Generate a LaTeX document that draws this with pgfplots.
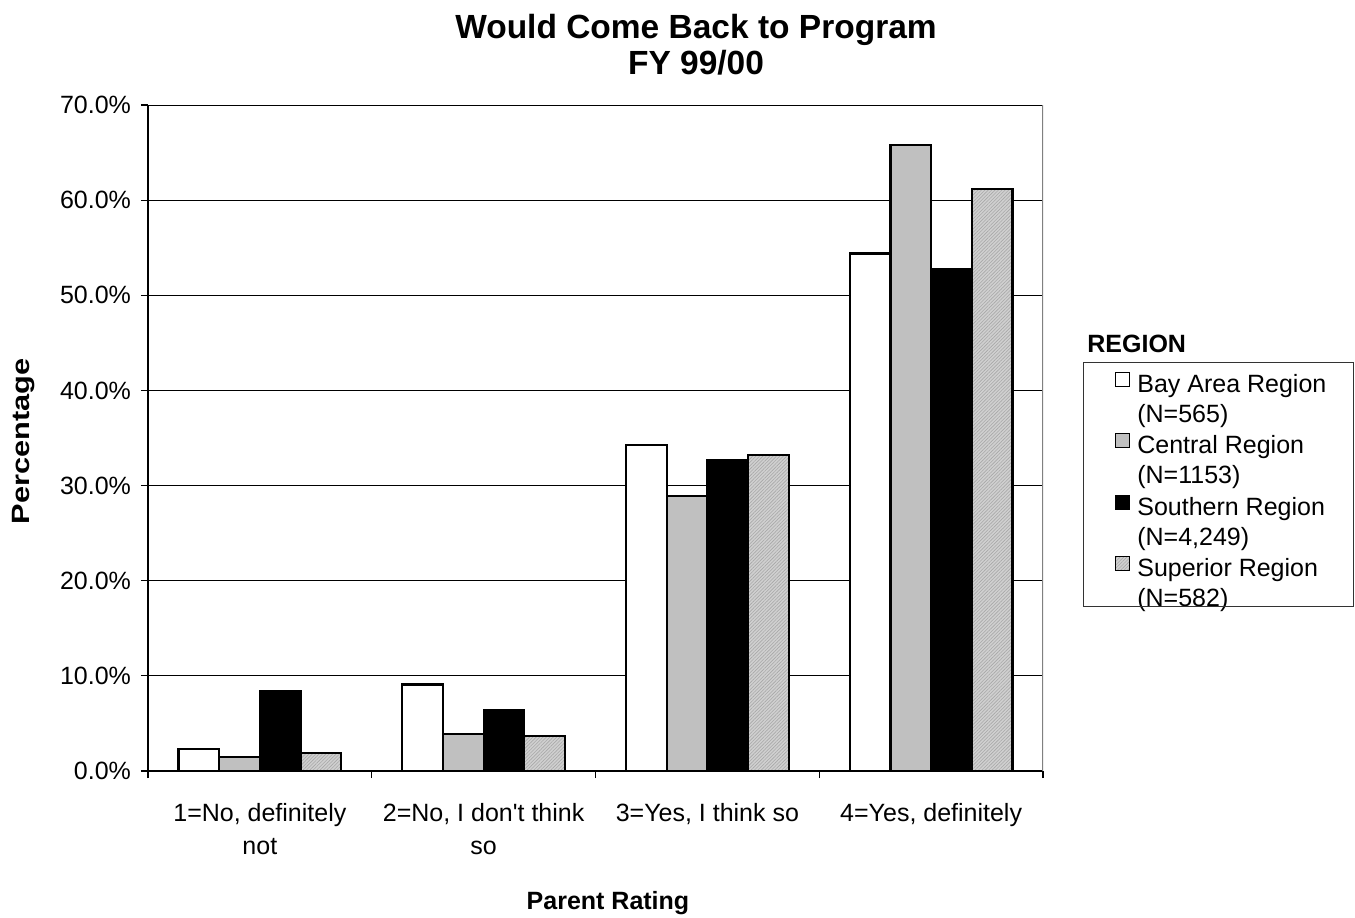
\documentclass[border=0pt]{standalone}
\usepackage{fontspec}
\setmainfont{Liberation Sans}
\usepackage{pgfplots}
\pgfplotsset{compat=1.18}
\usetikzlibrary{patterns.meta}

\definecolor{centralgray}{RGB}{192,192,192}
\definecolor{superiorbase}{RGB}{208,208,208}
\definecolor{superiorhatch}{RGB}{168,168,168}
\definecolor{frameGray}{RGB}{128,128,128}

% bar geometry (pt)
\newcommand{\bw}{20.35pt}
\tikzset{superiorfill/.style={fill=superiorbase,
  postaction={pattern={Lines[angle=45,distance=1.2pt,line width=0.3pt]}, pattern color=superiorhatch}}}

\begin{document}
\begin{tikzpicture}[x=1pt,y=1pt]
\useasboundingbox (-74,-73) rectangle (603.5,385.5);
\begin{axis}[
  at={(0,0)}, anchor=south west,
  scale only axis, width=447.5pt, height=333pt,
  xmin=-0.5, xmax=3.5, ymin=0, ymax=70,
  axis x line*=bottom, axis y line*=left,
  axis line style={line width=0.8pt, -},
  xtick={-0.5,0.5,1.5,2.5,3.5}, xticklabels={},
  extra x ticks={0,1,2,3},
  extra x tick labels={{1=No, definitely\\not},{2=No, I don\textquotesingle t think\\so},{3=Yes, I think so},{4=Yes, definitely}},
  extra x tick style={major tick length=0pt},
  ytick={0,10,...,70},
  tick align=outside, major tick length=3.5pt,
  tick style={black, line width=0.6pt},
  ymajorgrids, grid style={black, line width=0.5pt},
  yticklabel={\pgfmathprintnumber[fixed,fixed zerofill,precision=1]{\tick}\%},
  /pgf/number format/assume math mode=true,
  tick label style={font=\fontsize{12.5}{16.5}\selectfont},
  y tick label style={xshift=-1.5pt},
  x tick label style={align=center, yshift=-12.5pt},
  legend image code/.code={\draw[draw=black, line width=0.5pt, #1] (0pt,1pt) rectangle (7pt,8pt);},
  legend style={draw=none, fill=none, at={(axis description cs:1.0804,0.6)}, anchor=north west,
    font=\fontsize{12.5}{15}\selectfont, inner sep=0pt, row sep=0pt,
    nodes={inner sep=0pt, text height=9.5pt, text depth=5.5pt},
    /tikz/every odd column/.append style={column sep=3.5pt}},
  legend cell align=left,
]
% legend swatches, two text rows per region
\addlegendimage{fill=white}
\addlegendentry{Bay Area Region}
\addlegendimage{empty legend}
\addlegendentry{(N=565)}
\addlegendimage{fill=centralgray}
\addlegendentry{Central Region}
\addlegendimage{empty legend}
\addlegendentry{(N=1153)}
\addlegendimage{fill=black}
\addlegendentry{Southern Region}
\addlegendimage{empty legend}
\addlegendentry{(N=4,249)}
\addlegendimage{superiorfill}
\addlegendentry{Superior Region}
\addlegendimage{empty legend}
\addlegendentry{(N=582)}

% Bay Area Region
\addplot[forget plot, ybar, bar width=\bw, bar shift=-30.525pt, fill=white, draw=black, line width=1.1pt]
  coordinates {(0,2.3) (1,9.1) (2,34.3) (3,54.4)};
% Central Region
\addplot[forget plot, ybar, bar width=\bw, bar shift=-10.175pt, fill=centralgray, draw=black, line width=1.1pt]
  coordinates {(0,1.5) (1,3.85) (2,28.9) (3,65.8)};
% Southern Region
\addplot[forget plot, ybar, bar width=\bw, bar shift=10.175pt, fill=black, draw=black, line width=1.1pt]
  coordinates {(0,8.4) (1,6.35) (2,32.7) (3,52.8)};
% Superior Region
\addplot[forget plot, ybar, bar width=\bw, bar shift=30.525pt, superiorfill, draw=black, line width=1.1pt]
  coordinates {(0,1.9) (1,3.65) (2,33.2) (3,61.2)};

% right edge of the plot area
\draw[frameGray, line width=0.8pt] (rel axis cs:1,0) -- (rel axis cs:1,1);
\end{axis}

% titles
\node[anchor=base, font=\bfseries\fontsize{16.75}{18}\selectfont] at (274,366) {Would Come Back to Program};
\node[anchor=base, font=\bfseries\fontsize{16.75}{18}\selectfont] at (274,348) {FY 99/00};
\node[anchor=base, font=\bfseries\fontsize{12.5}{15}\selectfont] at (230,-69) {Parent Rating};
\node[rotate=90, font=\bfseries\fontsize{12.5}{15}\selectfont] at (-62.25,164.75) {\scalebox{1.23}[1]{Percentage}};

% legend heading and frame
\node[anchor=base west, font=\bfseries\fontsize{12.5}{15}\selectfont, inner sep=0pt] at (469.5,209.5) {REGION};
\draw[black!80, line width=0.5pt] (467.5,82.5) rectangle (602.5,204.5);
\end{tikzpicture}
\end{document}
